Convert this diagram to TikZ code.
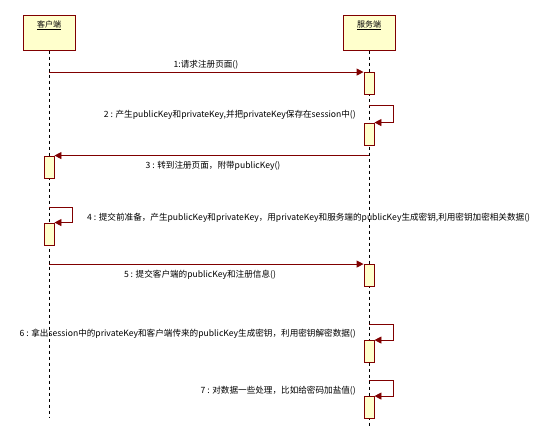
\documentclass[tikz,border=0pt]{standalone}
\usepackage{fontspec}
\newfontfamily\cjk{Noto Sans CJK SC}
\usetikzlibrary{positioning, arrows.meta}
\definecolor{lineRed}{RGB}{128,0,0}
\definecolor{boxYellow}{RGB}{255,255,204}
\tikzset{
    head/.style = {draw=lineRed, fill=boxYellow, line width=1pt, minimum width=52pt,
                   text height=12pt, text depth=23pt, inner sep=0pt,
                   font=\cjk\fontsize{8}{9}\selectfont},
    act/.style = {draw=lineRed, fill=boxYellow, line width=0.9pt, minimum width=10pt,
                  minimum height=22pt, inner sep=0pt},
    life/.style = {draw, dash pattern=on 3pt off 3pt, line width=0.6pt},
    msg/.style = {draw=lineRed, line width=0.9pt, -{Triangle[length=7pt,width=7pt]}},
    lbl/.style = {font=\cjk\fontsize{8.6}{10}\selectfont, inner sep=1pt},
}

\begin{document}
\begin{tikzpicture}[x=1pt, y=-1pt]
                \useasboundingbox (0,0) rectangle (554,445);
                \node[head] (client) at (49, 32.5) {\underline{客户端}};
                \node[head] (server) at (369, 32.5) {\underline{服务端}};
                \coordinate (clientEnd) at (49, 418);
                \coordinate (serverEnd) at (369, 428);
                \draw[life] (client.south) -- (clientEnd);
                \draw[life] (server.south) -- (serverEnd);

                \node[act] (act1) at (369, 83.5) {};
                \node[act] (act2) at (369, 134) {};
                \node[act] (act3) at (49, 167) {};
                \node[act] (act4) at (49, 234) {};
                \node[act] (act5) at (369, 275.5) {};
                \node[act] (act6) at (369, 351.5) {};
                \node[act] (act7) at (369, 407.5) {};

                \draw[msg] (client.south |- act1.north) -- (act1.north west);
                \draw[msg] ([yshift=17pt]act2.north -| server.south) -- ++(24,0) |- (act2.north east);
                \draw[msg] (server.south |- act3.north) -- (act3.north east);
                \draw[msg] ([yshift=15pt]act4.north -| client.south) -- ++(23,0) |- (act4.north east);
                \draw[msg] (client.south |- act5.north) -- (act5.north west);
                \draw[msg] ([yshift=16pt]act6.north -| server.south) -- ++(24,0) |- (act6.north east);
                \draw[msg] ([yshift=16pt]act7.north -| server.south) -- ++(24,0) |- (act7.north east);

                \node[lbl] (lbl1) at (206, 65) {1:请求注册页面()};
                \node[lbl, anchor=east] (lbl2) at (357, 115) {2 : 产生publicKey和privateKey,并把privateKey保存在session中()};
                \node[lbl] (lbl3) at (213, 166) {3 : 转到注册页面，附带publicKey()};
                \node[lbl, anchor=west] (lbl4) at (86, 218) {4 : 提交前准备，产生publicKey和privateKey，用privateKey和服务端的publicKey生成密钥,利用密钥加密相关数据()};
                \node[lbl] (lbl5) at (200, 275) {5 : 提交客户端的publicKey和注册信息()};
                \node[lbl, anchor=east] (lbl6) at (357, 334) {6 : 拿出session中的privateKey和客户端传来的publicKey生成密钥，利用密钥解密数据()};
                \node[lbl, anchor=east] (lbl7) at (357, 391) {7 : 对数据一些处理，比如给密码加盐值()};
\end{tikzpicture}
\end{document}
